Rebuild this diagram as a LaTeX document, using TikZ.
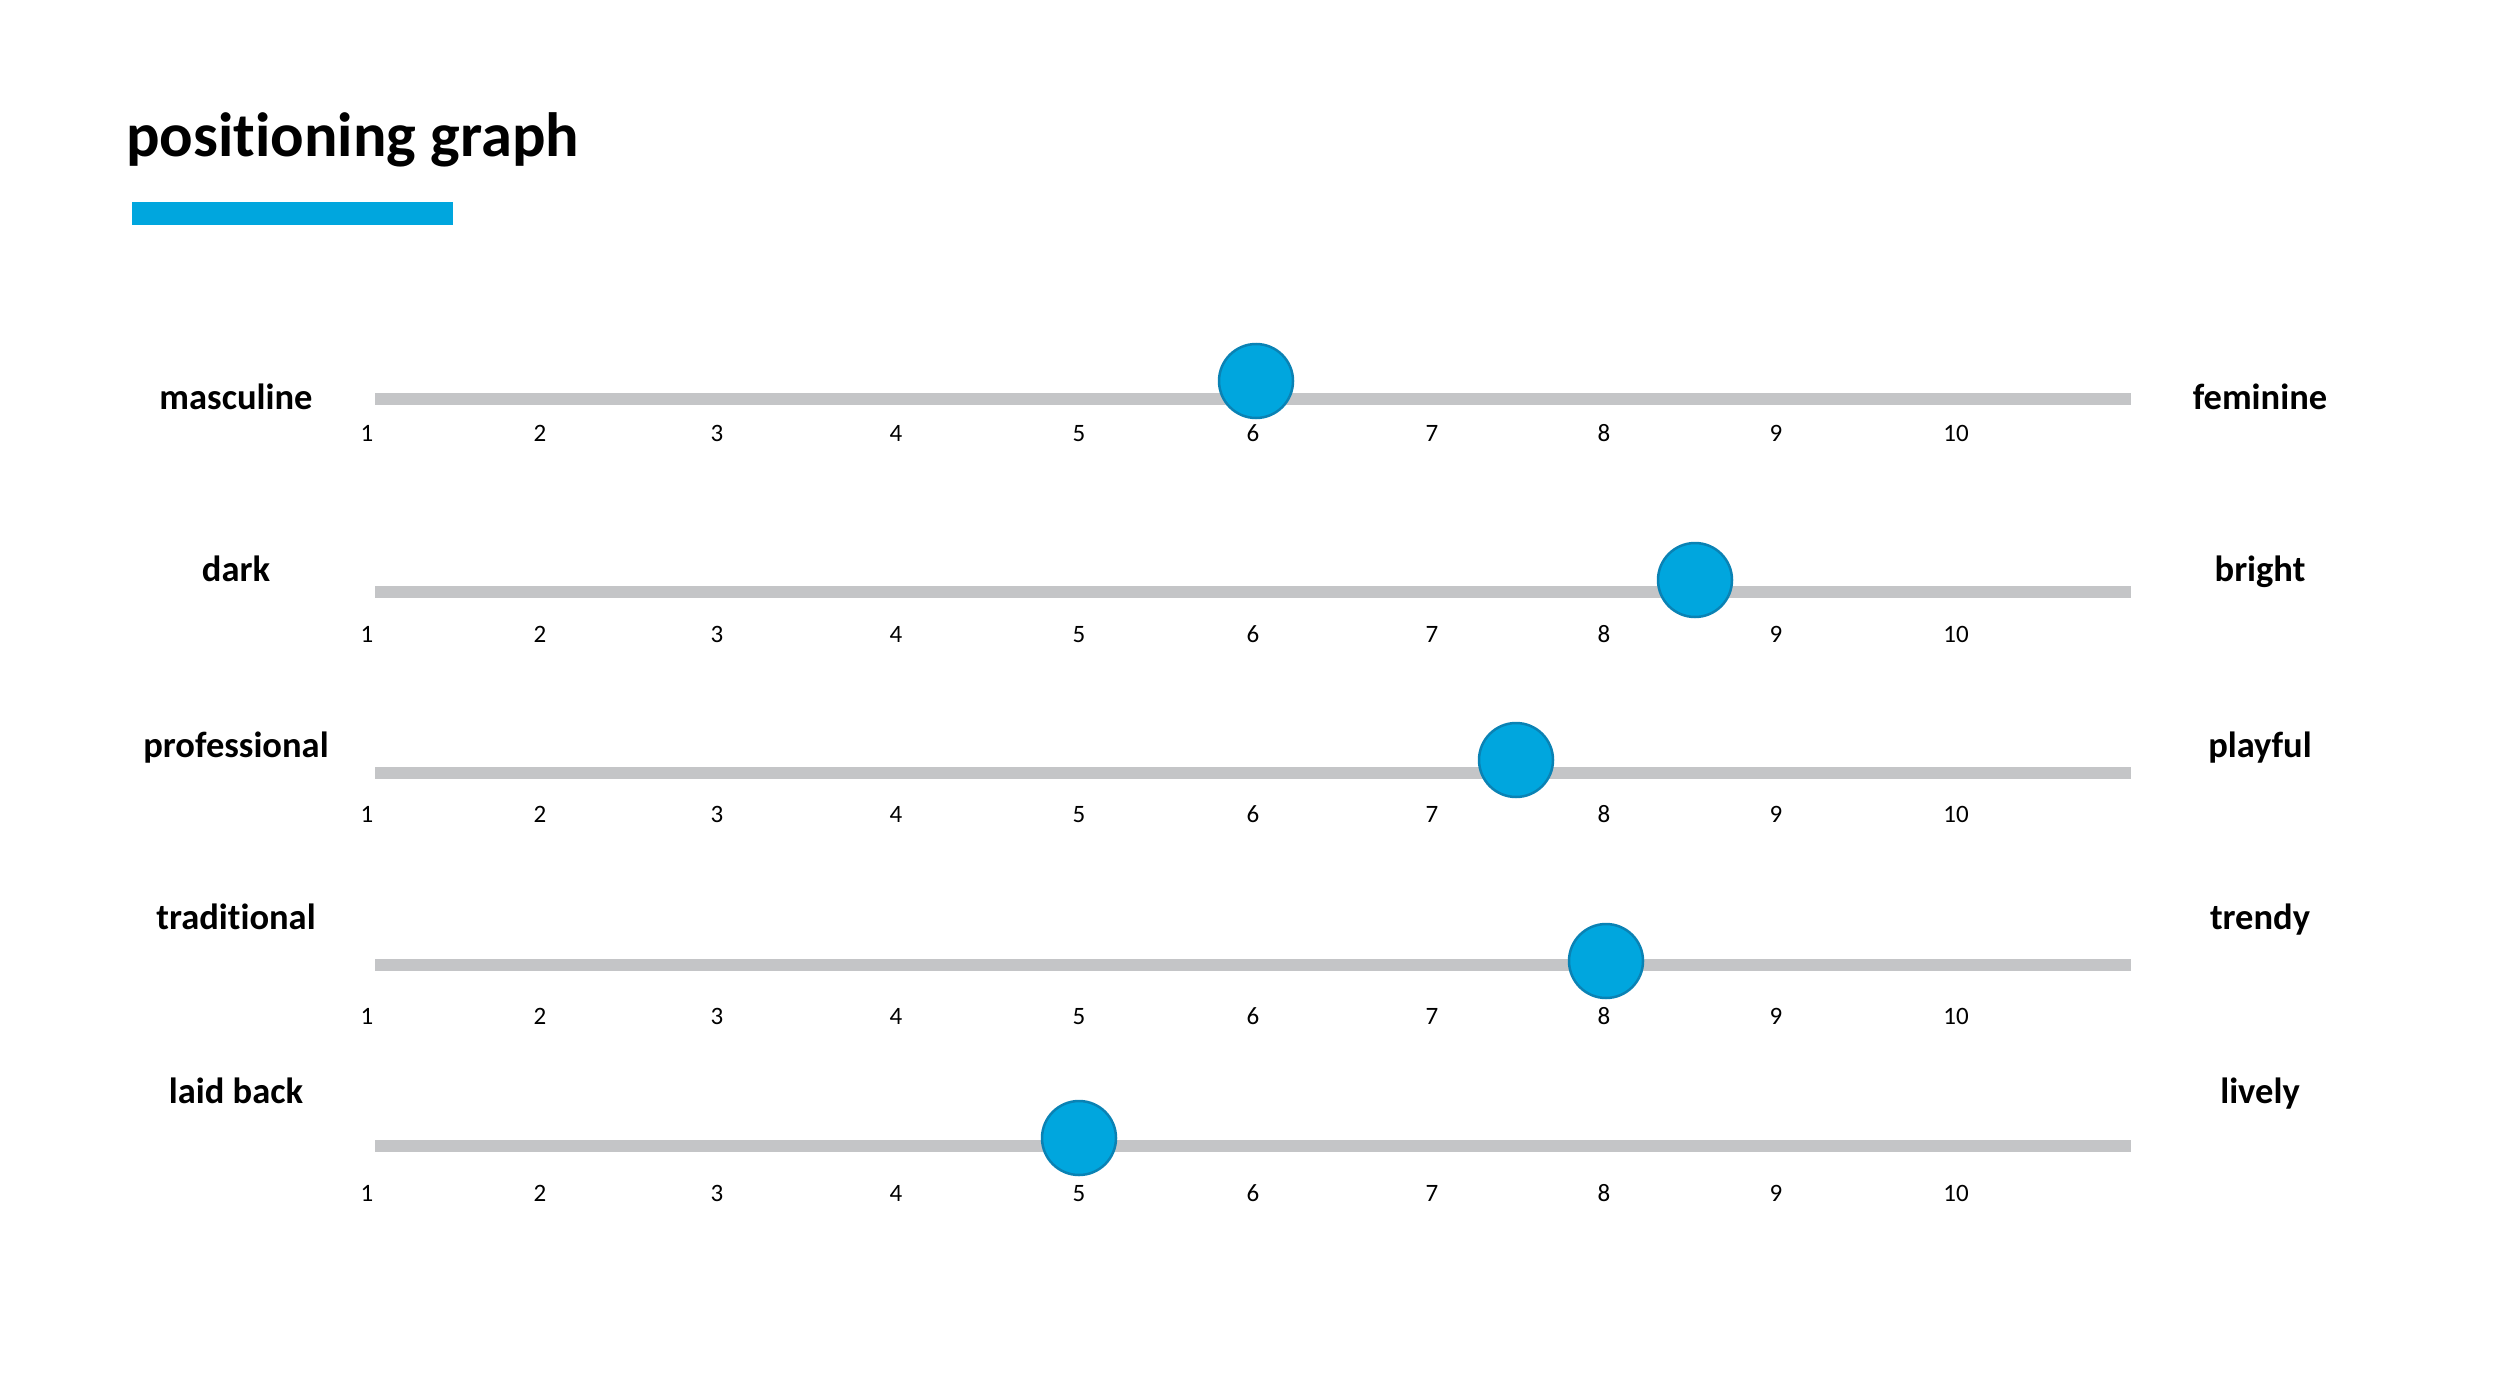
\documentclass[tikz,border=0pt]{standalone}
\usepackage{fontspec}
\setmainfont{Carlito}[Ligatures={TeX,NoCommon}]
\definecolor{brandblue}{RGB}{0,166,222}
\definecolor{rimblue}{RGB}{10,130,180}
\definecolor{railgray}{RGB}{196,197,199}
\tikzset{
  rail/.style={draw=railgray, line width=12pt},
  knob/.style={circle, fill=brandblue, draw=rimblue, line width=2.5pt, minimum size=74pt, inner sep=0pt},
  endlabel/.style={font=\fontsize{36.5}{40}\selectfont\bfseries, anchor=base, inner sep=0pt},
  ticklabel/.style={font=\fontsize{25}{27}\selectfont, anchor=base, inner sep=0pt},
  titletext/.style={font=\fontsize{62.5}{68}\selectfont\bfseries, anchor=base west, inner sep=0pt}
}
\begin{document}
\begin{tikzpicture}[x=1pt,y=-1pt]
\useasboundingbox (0,0) rectangle (2500,1375);
\node[titletext] (title) at (126,157) {posit\kern0pt ioning graph};
\fill[brandblue] (132,202) rectangle (453,225);
\foreach \i/\lt/\rt/\ly/\cx/\cy/\ty/\tb in {
  1/masculine/feminine/399/1256/381/409/441,
  2/dark/bright/592/1695/580/581/642,
  3/professional/playful/773/1516/760/757/822,
  4/tradit\kern0pt ional/trendy/965/1606/961/929/1024,
  5/laid back/lively/1146/1079/1138/1103/1201}{
  \coordinate (a\i) at (375,\ly);
  \coordinate (b\i) at (2131,\ly);
  \draw[rail] (a\i) -- (b\i);
  \node[endlabel] (l\i) at (236,\ty) {\lt};
  \node[endlabel] (r\i) at (2260,\ty) {\rt};
  \foreach \n/\x in {1/367,2/540,3/717,4/896,5/1079,6/1253,7/1432,8/1604,9/1776,10/1956}{
    \node[ticklabel] (t\i-\n) at (\x,\tb) {\n};
  }
  \node[knob] (k\i) at (\cx,\cy) {};
}
\end{tikzpicture}
\end{document}
